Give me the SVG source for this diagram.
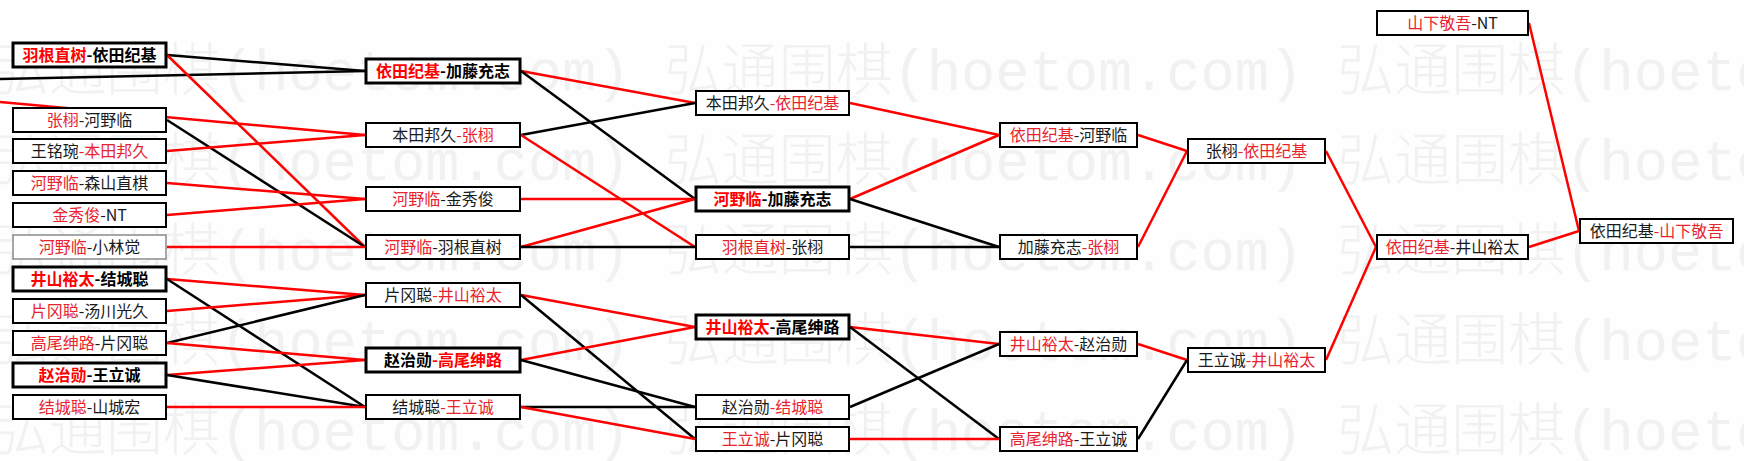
<svg xmlns="http://www.w3.org/2000/svg" width="1744" height="461" viewBox="0 0 1744 461">
<style>
.wm{font-family:"Liberation Mono","Noto Sans CJK SC",monospace;font-size:57px;fill:#f1f1f1;font-weight:300}
.n rect{fill:#fff;stroke:#000;stroke-width:2}
.n.b rect{stroke-width:3}
.n.g rect{stroke:#8a8a8a;stroke-width:1.5}
.n text{font-family:"Noto Sans CJK SC","Noto Sans CJK JP",sans-serif;font-size:16px;text-anchor:middle;fill:#1a1a1a}
.n.b text{font-weight:bold;fill:#000}
.r{fill:#e8232e}
.n.b .r{fill:#ff0000}
.k line{stroke:#000;stroke-width:2.5}
.k line.rd{stroke:#ff0000}
</style>
<rect width="1744" height="461" fill="#fefefe"/>
<g id="watermark">
<text class="wm" x="-8" y="90">弘通围棋(hoetom.com) 弘通围棋(hoetom.com) 弘通围棋(hoeto</text>
<text class="wm" x="-8" y="180">弘通围棋(hoetom.com) 弘通围棋(hoetom.com) 弘通围棋(hoeto</text>
<text class="wm" x="-8" y="270">弘通围棋(hoetom.com) 弘通围棋(hoetom.com) 弘通围棋(hoeto</text>
<text class="wm" x="-8" y="360">弘通围棋(hoetom.com) 弘通围棋(hoetom.com) 弘通围棋(hoeto</text>
<text class="wm" x="-8" y="450">弘通围棋(hoetom.com) 弘通围棋(hoetom.com) 弘通围棋(hoeto</text>
</g>
<g id="connectors" class="k">
<line x1="167" y1="55" x2="365" y2="71"/>
<line x1="0" y1="79" x2="365" y2="71"/>
<line class="rd" x1="0" y1="102" x2="365" y2="135"/>
<line class="rd" x1="167" y1="55" x2="365" y2="247"/>
<line x1="167" y1="120" x2="365" y2="247"/>
<line class="rd" x1="167" y1="151" x2="365" y2="135"/>
<line class="rd" x1="167" y1="183" x2="365" y2="199"/>
<line class="rd" x1="167" y1="215" x2="365" y2="199"/>
<line class="rd" x1="167" y1="247" x2="365" y2="247"/>
<line class="rd" x1="167" y1="279" x2="365" y2="295"/>
<line x1="167" y1="279" x2="365" y2="407"/>
<line class="rd" x1="167" y1="311" x2="365" y2="295"/>
<line x1="167" y1="343" x2="365" y2="295"/>
<line class="rd" x1="167" y1="343" x2="365" y2="360"/>
<line class="rd" x1="167" y1="375" x2="365" y2="360"/>
<line x1="167" y1="375" x2="365" y2="407"/>
<line class="rd" x1="167" y1="407" x2="365" y2="407"/>
<line class="rd" x1="521" y1="71" x2="695" y2="103"/>
<line x1="521" y1="71" x2="695" y2="199"/>
<line x1="521" y1="135" x2="695" y2="103"/>
<line class="rd" x1="521" y1="135" x2="695" y2="247"/>
<line class="rd" x1="521" y1="199" x2="695" y2="199"/>
<line class="rd" x1="521" y1="247" x2="695" y2="199"/>
<line x1="521" y1="247" x2="695" y2="247"/>
<line class="rd" x1="521" y1="295" x2="695" y2="327"/>
<line x1="521" y1="295" x2="695" y2="439"/>
<line class="rd" x1="521" y1="360" x2="695" y2="327"/>
<line x1="521" y1="360" x2="695" y2="407"/>
<line x1="521" y1="407" x2="695" y2="407"/>
<line class="rd" x1="521" y1="407" x2="695" y2="439"/>
<line class="rd" x1="850" y1="103" x2="999" y2="135"/>
<line class="rd" x1="850" y1="199" x2="999" y2="135"/>
<line x1="850" y1="199" x2="999" y2="247"/>
<line x1="850" y1="247" x2="999" y2="247"/>
<line class="rd" x1="850" y1="327" x2="999" y2="344"/>
<line x1="850" y1="327" x2="999" y2="439"/>
<line x1="850" y1="407" x2="999" y2="344"/>
<line class="rd" x1="850" y1="439" x2="999" y2="439"/>
<line class="rd" x1="1138" y1="135" x2="1187" y2="151"/>
<line class="rd" x1="1138" y1="247" x2="1187" y2="151"/>
<line class="rd" x1="1138" y1="344" x2="1187" y2="360"/>
<line x1="1138" y1="439" x2="1187" y2="360"/>
<line class="rd" x1="1326" y1="151" x2="1376" y2="247"/>
<line class="rd" x1="1326" y1="360" x2="1376" y2="247"/>
<line class="rd" x1="1529" y1="247" x2="1579" y2="231"/>
<line class="rd" x1="1529" y1="23" x2="1579" y2="231"/>
</g>
<g id="n1_1" class="n b"><rect x="13" y="43" width="153" height="24"/><text x="89.5" y="61"><tspan class="r">羽根直树</tspan>-依田纪基</text></g>
<g id="n1_2" class="n"><rect x="13" y="108" width="153" height="24"/><text x="89.5" y="126"><tspan class="r">张栩</tspan>-河野临</text></g>
<g id="n1_3" class="n"><rect x="13" y="139" width="153" height="24"/><text x="89.5" y="157">王铭琬<tspan class="r">-本田邦久</tspan></text></g>
<g id="n1_4" class="n"><rect x="13" y="171" width="153" height="24"/><text x="89.5" y="189"><tspan class="r">河野临</tspan>-森山直棋</text></g>
<g id="n1_5" class="n"><rect x="13" y="203" width="153" height="24"/><text x="89.5" y="221"><tspan class="r">金秀俊</tspan>-NT</text></g>
<g id="n1_6" class="n g"><rect x="13" y="235" width="153" height="24"/><text x="89.5" y="253"><tspan class="r">河野临</tspan>-小林觉</text></g>
<g id="n1_7" class="n b"><rect x="13" y="267" width="153" height="24"/><text x="89.5" y="285"><tspan class="r">井山裕太</tspan>-结城聪</text></g>
<g id="n1_8" class="n"><rect x="13" y="299" width="153" height="24"/><text x="89.5" y="317"><tspan class="r">片冈聪</tspan>-汤川光久</text></g>
<g id="n1_9" class="n"><rect x="13" y="331" width="153" height="24"/><text x="89.5" y="349"><tspan class="r">高尾绅路</tspan>-片冈聪</text></g>
<g id="n1_10" class="n b"><rect x="13" y="363" width="153" height="24"/><text x="89.5" y="381"><tspan class="r">赵治勋</tspan>-王立诚</text></g>
<g id="n1_11" class="n"><rect x="13" y="395" width="153" height="24"/><text x="89.5" y="413"><tspan class="r">结城聪</tspan>-山城宏</text></g>
<g id="n2_1" class="n b"><rect x="366" y="59" width="154" height="24"/><text x="443" y="77"><tspan class="r">依田纪基</tspan>-加藤充志</text></g>
<g id="n2_2" class="n"><rect x="366" y="123" width="154" height="24"/><text x="443" y="141">本田邦久<tspan class="r">-张栩</tspan></text></g>
<g id="n2_3" class="n"><rect x="366" y="187" width="154" height="24"/><text x="443" y="205"><tspan class="r">河野临</tspan>-金秀俊</text></g>
<g id="n2_4" class="n"><rect x="366" y="235" width="154" height="24"/><text x="443" y="253"><tspan class="r">河野临</tspan>-羽根直树</text></g>
<g id="n2_5" class="n"><rect x="366" y="283" width="154" height="24"/><text x="443" y="301">片冈聪<tspan class="r">-井山裕太</tspan></text></g>
<g id="n2_6" class="n b"><rect x="366" y="348" width="154" height="24"/><text x="443" y="366">赵治勋<tspan class="r">-高尾绅路</tspan></text></g>
<g id="n2_7" class="n"><rect x="366" y="395" width="154" height="24"/><text x="443" y="413">结城聪<tspan class="r">-王立诚</tspan></text></g>
<g id="n3_1" class="n"><rect x="696" y="91" width="153" height="24"/><text x="772.5" y="109">本田邦久<tspan class="r">-依田纪基</tspan></text></g>
<g id="n3_2" class="n b"><rect x="696" y="187" width="153" height="24"/><text x="772.5" y="205"><tspan class="r">河野临</tspan>-加藤充志</text></g>
<g id="n3_3" class="n"><rect x="696" y="235" width="153" height="24"/><text x="772.5" y="253"><tspan class="r">羽根直树</tspan>-张栩</text></g>
<g id="n3_4" class="n b"><rect x="696" y="315" width="153" height="24"/><text x="772.5" y="333"><tspan class="r">井山裕太</tspan>-高尾绅路</text></g>
<g id="n3_5" class="n"><rect x="696" y="395" width="153" height="24"/><text x="772.5" y="413">赵治勋<tspan class="r">-结城聪</tspan></text></g>
<g id="n3_6" class="n"><rect x="696" y="427" width="153" height="24"/><text x="772.5" y="445"><tspan class="r">王立诚</tspan>-片冈聪</text></g>
<g id="n4_1" class="n"><rect x="1000" y="123" width="137" height="24"/><text x="1068.5" y="141"><tspan class="r">依田纪基</tspan>-河野临</text></g>
<g id="n4_2" class="n"><rect x="1000" y="235" width="137" height="24"/><text x="1068.5" y="253">加藤充志<tspan class="r">-张栩</tspan></text></g>
<g id="n4_3" class="n"><rect x="1000" y="332" width="137" height="24"/><text x="1068.5" y="350"><tspan class="r">井山裕太</tspan>-赵治勋</text></g>
<g id="n4_4" class="n"><rect x="1000" y="427" width="137" height="24"/><text x="1068.5" y="445"><tspan class="r">高尾绅路</tspan>-王立诚</text></g>
<g id="n5_1" class="n"><rect x="1188" y="139" width="137" height="24"/><text x="1256.5" y="157">张栩<tspan class="r">-依田纪基</tspan></text></g>
<g id="n5_2" class="n"><rect x="1188" y="348" width="137" height="24"/><text x="1256.5" y="366">王立诚<tspan class="r">-井山裕太</tspan></text></g>
<g id="n6_1" class="n"><rect x="1377" y="235" width="151" height="24"/><text x="1452.5" y="253"><tspan class="r">依田纪基</tspan>-井山裕太</text></g>
<g id="n6_0" class="n"><rect x="1377" y="11" width="151" height="24"/><text x="1452.5" y="29"><tspan class="r">山下敬吾</tspan>-NT</text></g>
<g id="n7_1" class="n"><rect x="1580" y="219" width="153" height="24"/><text x="1656.5" y="237">依田纪基<tspan class="r">-山下敬吾</tspan></text></g>
</svg>
